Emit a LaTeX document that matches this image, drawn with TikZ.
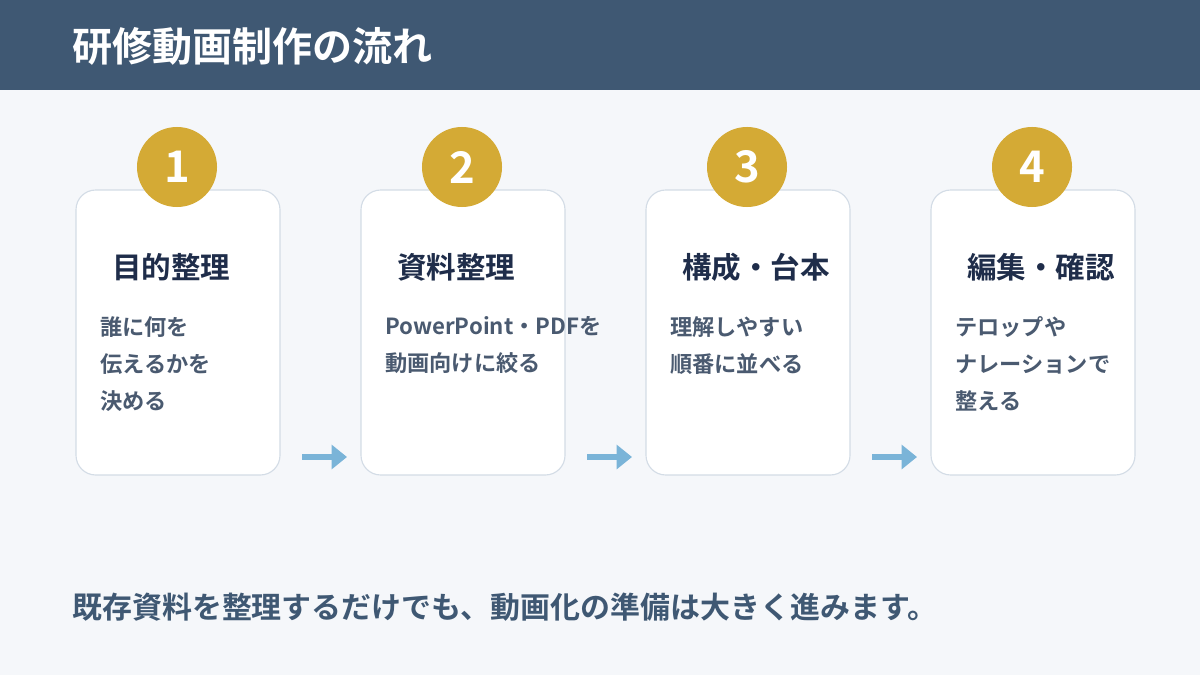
\documentclass[tikz,border=0pt]{standalone}
\usepackage{fontspec}
\setmainfont{Noto Sans CJK JP}[BoldFont={Noto Sans CJK JP Bold}]
\usetikzlibrary{positioning}
\definecolor{headbg}{HTML}{3F5873}
\definecolor{pagebg}{HTML}{F5F7FA}
\definecolor{gold}{HTML}{D4AA35}
\definecolor{navy}{HTML}{1F2D4A}
\definecolor{bodytxt}{HTML}{4A5A70}
\definecolor{boxline}{HTML}{D3DCE6}
\definecolor{arrowblue}{HTML}{7AB4D8}
\tikzset{
  stepcard/.style={draw=boxline, line width=0.8pt, fill=white, rounded corners=14pt},
  numdot/.style={circle, fill=gold, minimum size=2cm, inner sep=0pt, text=white,
    font=\fontsize{31}{31}\selectfont\bfseries},
  cardtitle/.style={anchor=west, text=navy, font=\fontsize{21}{21}\selectfont\bfseries, inner sep=0pt},
  cardbody/.style={anchor=north west, text=bodytxt, align=left, inner sep=0pt,
    font=\fontsize{15.8}{26.3}\selectfont\bfseries},
  flowarrow/.style={-{Triangle[length=11pt,width=17pt]}, draw=arrowblue, line width=4pt}
}
\usetikzlibrary{arrows.meta}
\begin{document}
\begin{tikzpicture}[x=0.025cm, y=-0.025cm]
  % Hintergrund und Kopfzeile
  \fill[pagebg] (0,0) rectangle (1200,675);
  \fill[headbg] (0,0) rectangle (1200,90);
  \node[anchor=west, text=white, inner sep=0pt, font=\fontsize{28.5}{28.5}\selectfont\bfseries]
    (title) at (72,46) {研修動画制作の流れ};

  % Vier Schritte
  \foreach \i/\x/\head/\body in {
      1/76/目的整理/{誰に何を\\伝えるかを\\決める},
      2/361/資料整理/{PowerPoint・PDFを\\動画向けに絞る},
      3/646/構成・台本/{理解しやすい\\順番に並べる},
      4/931/編集・確認/{テロップや\\ナレーションで\\整える}} {
    \draw[stepcard] (\x,190) rectangle (\x+204,475);
    \node[numdot] (num\i) at (\x+101,167) {\i};
    \node[cardtitle] (head\i) at (\x+36,267) {\head};
    \node[cardbody] (body\i) at (\x+24,316) {\body};
    \coordinate (out\i) at (\x+226,457);
    \coordinate (in\i) at (\x+271,457);
  }
  \foreach \i in {1,2,3} \draw[flowarrow] (out\i) -- (in\i);

  % Fusszeile
  \node[anchor=west, text=headbg, inner sep=0pt, font=\fontsize{21.3}{21.3}\selectfont\bfseries]
    (note) at (72,607) {既存資料を整理するだけでも、動画化の準備は大きく進みます。};
\end{tikzpicture}
\end{document}
